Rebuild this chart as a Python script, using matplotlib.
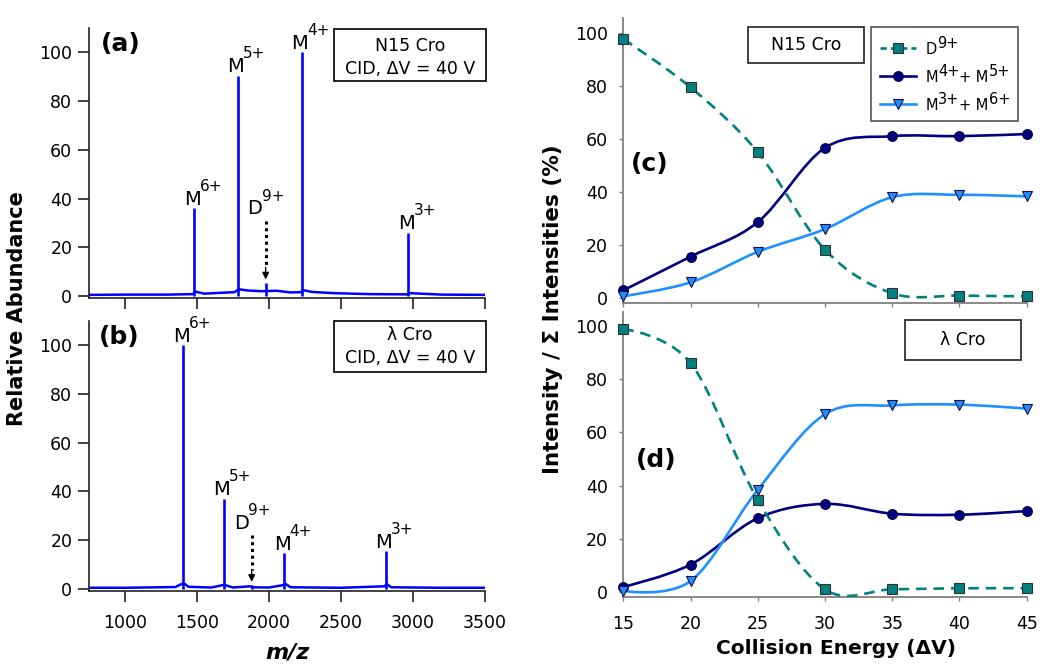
import matplotlib
matplotlib.use('Agg')
import matplotlib.pyplot as plt
from matplotlib.path import Path
from matplotlib.patches import PathPatch, Rectangle
from matplotlib.lines import Line2D
from matplotlib.offsetbox import AnchoredOffsetbox, HPacker, VPacker, TextArea, DrawingArea
import numpy as np

plt.rcParams['font.family'] = ['DejaVu Sans']
plt.rcParams['mathtext.default'] = 'regular'

# ---- mass spectra, CID at dV = 40 V ----
ion_letter = ['M', 'M', 'D', 'M', 'M']
ion_charge = ['6+', '5+', '9+', '4+', '3+']

n15_peak_mz = [1481, 1782, 1977, 2227, 2967]
n15_peak_height = [36, 90.5, 5.5, 100, 26]
n15_base_mz = [750, 1000, 1300, 1470, 1490, 1550, 1650, 1760, 1790, 1850, 1950, 2050,
               2150, 2220, 2240, 2300, 2450, 2700, 2960, 2980, 3200, 3500]
n15_base_y = [0.5, 0.6, 0.6, 0.8, 1.8, 1.0, 1.3, 1.6, 2.8, 2.3, 2.0, 2.2,
              1.5, 1.6, 2.4, 1.7, 1.2, 0.8, 0.7, 1.2, 0.6, 0.5]

lam_peak_mz = [1405, 1685, 1880, 2106, 2810]
lam_peak_height = [100, 37, 1.5, 14.5, 15.5]
lam_base_mz = [750, 1000, 1350, 1395, 1415, 1440, 1600, 1680, 1695, 1750, 1870, 1890,
               2000, 2100, 2115, 2150, 2500, 2800, 2820, 2850, 3200, 3500]
lam_base_y = [0.4, 0.4, 0.7, 2.0, 2.0, 0.8, 0.5, 1.5, 1.5, 0.5, 1.0, 0.6,
              0.5, 1.5, 2.0, 0.6, 0.4, 1.0, 1.8, 0.6, 0.4, 0.4]

# dimer label / arrow heights (label bottom, arrow start, arrow tip)
n15_d9_arrow = [33.5, 31.0, 6.8]
lam_d9_arrow = [24.5, 22.0, 2.8]

# ---- fragment intensities vs collision energy ----
energy = [15, 20, 25, 30, 35, 40, 45]
n15_d9 = [97.6, 79.4, 55.0, 18.2, 1.8, 0.9, 0.7]
n15_m45 = [2.9, 15.6, 28.6, 56.6, 61.0, 61.0, 61.8]
n15_m36 = [0.7, 5.9, 17.4, 26.0, 38.0, 38.9, 38.3]
lam_d9 = [99.0, 86.2, 34.6, 0.9, 0.9, 1.3, 1.3]
lam_m45 = [1.8, 10.2, 27.7, 33.1, 29.4, 29.0, 30.4]
lam_m36 = [0.3, 4.0, 38.4, 66.9, 70.2, 70.5, 69.0]

legend_parts = [[('D', '9+')], [('M', '4+'), ('+ M', '5+')], [('M', '3+'), ('+ M', '6+')]]

teal = '#008080'
navy = '#000080'
sky = '#1E90FF'

d9_style = dict(color=teal, lw=1.9, marker='s', ms=7, mfc=teal, mec='#303030', mew=0.8)
m45_style = dict(color=navy, lw=1.9, marker='o', ms=7, mfc=navy, mec='#000040', mew=0.8)
m36_style = dict(color=sky, lw=1.9, marker='v', ms=7.5, mfc=sky, mec='#10104a', mew=0.8)


def smooth_path(x, y):
    # bezier smoothing like a spreadsheet "smoothed line"
    p = np.column_stack([x, y]).astype(float)
    n = len(p)
    verts = [p[0]]
    codes = [Path.MOVETO]
    for i in range(n - 1):
        if i == 0:
            c1 = p[0]
        else:
            c1 = p[i] + (p[i + 1] - p[i - 1]) / 6
        if i + 2 < n:
            c2 = p[i + 1] - (p[i + 2] - p[i]) / 6
        else:
            c2 = p[i + 1]
        verts += [c1, c2, p[i + 1]]
        codes += [Path.CURVE4] * 3
    return Path(verts, codes)


def ion_label(ax, x, y, letter, charge, dx):
    # letter on the baseline, charge raised to the cap height
    w = 11.4 if letter == 'M' else 10.2
    ax.annotate(letter, xy=(x, y), xytext=(dx, 0), textcoords='offset points',
                ha='left', va='baseline', fontsize=14)
    ax.annotate(charge, xy=(x, y), xytext=(dx + w, 10.0), textcoords='offset points',
                ha='left', va='baseline', fontsize=11)


def spectrum(ax, peak_mz, peak_h, base_mz, base_y, arrow, show_x):
    ax.plot(base_mz, base_y, color='blue', lw=1.8, zorder=2)
    ax.vlines(peak_mz, 0, peak_h, color='blue', lw=1.9, zorder=3)
    for mz, h, let, ch in zip(peak_mz, peak_h, ion_letter, ion_charge):
        if let == 'D':
            ion_label(ax, mz, arrow[0], let, ch, -13)
            ax.plot([mz, mz], [arrow[1], arrow[2] + 5], color='black', lw=2.2,
                    linestyle=(0, (1, 1.2)), zorder=4)
            ax.annotate('', xy=(mz, arrow[2]), xytext=(mz, arrow[2] + 5),
                        arrowprops=dict(arrowstyle='-|>', color='black', lw=1,
                                        mutation_scale=10, shrinkA=0, shrinkB=0))
        else:
            ion_label(ax, mz, h + 1.4, let, ch, -7.5)
    ax.set_xlim(750, 3500)
    ax.set_ylim(-0.8, 110)
    ax.set_xticks(range(1000, 3501, 500))
    ax.set_yticks(range(0, 101, 20))
    for s in ['top', 'right']:
        ax.spines[s].set_visible(False)
    for s in ['left', 'bottom']:
        ax.spines[s].set_color('#222222')
        ax.spines[s].set_linewidth(1.2)
    ax.tick_params(direction='out', length=8, width=1.2, color='#222222',
                   labelsize=12.5, pad=4)
    ax.tick_params(axis='x', pad=9)
    if not show_x:
        ax.tick_params(axis='x', labelbottom=False)


def energy_plot(ax, d9, m45, m36, show_x):
    ax.add_patch(PathPatch(smooth_path(energy, m45), fill=False, edgecolor=navy, lw=1.9, zorder=2))
    ax.add_patch(PathPatch(smooth_path(energy, m36), fill=False, edgecolor=sky, lw=1.9, zorder=3))
    ax.add_patch(PathPatch(smooth_path(energy, d9), fill=False, edgecolor=teal, lw=1.9,
                           linestyle=(0, (4, 2.6)), zorder=4))
    ax.plot(energy, m45, ls='none', zorder=5, clip_on=False,
            **{k: v for k, v in m45_style.items() if k not in ('color', 'lw')})
    ax.plot(energy, m36, ls='none', zorder=6, clip_on=False,
            **{k: v for k, v in m36_style.items() if k not in ('color', 'lw')})
    ax.plot(energy, d9, ls='none', zorder=7, clip_on=False,
            **{k: v for k, v in d9_style.items() if k not in ('color', 'lw')})
    ax.set_xlim(15, 45)
    ax.set_ylim(-1.9, 105.4)
    ax.set_xticks(energy)
    ax.set_yticks(range(0, 101, 20))
    for s in ['top', 'right']:
        ax.spines[s].set_visible(False)
    for s in ['left', 'bottom']:
        ax.spines[s].set_color('#808080')
        ax.spines[s].set_linewidth(1.3)
    ax.tick_params(direction='out', length=3, width=1, color='#808080',
                   labelsize=12.5, pad=8)
    ax.tick_params(axis='x', pad=10)
    if not show_x:
        ax.tick_params(axis='x', labelbottom=False)


def box(ax, x0, y0, x1, y1, lines, ys, ec):
    ax.add_patch(Rectangle((x0, y0), x1 - x0, y1 - y0, transform=ax.transAxes, fill=False,
                           edgecolor=ec, lw=1.3, clip_on=False, zorder=8))
    for t, yy in zip(lines, ys):
        ax.text((x0 + x1) / 2, yy, t, transform=ax.transAxes, ha='center', va='center',
                fontsize=12.5, zorder=9)


def legend_row(style, parts):
    # handle: short line with a marker in the middle
    da = DrawingArea(26, 12, 0, 0)
    ls = (0, (2.4, 1.5)) if style is d9_style else '-'
    da.add_artist(Line2D([0, 26], [6.3, 6.3], color=style['color'], lw=style['lw'], ls=ls))
    da.add_artist(Line2D([13], [6.3], ls='none', marker=style['marker'], ms=style['ms'],
                         mfc=style['mfc'], mec=style['mec'], mew=style['mew']))
    items = []
    for base, sup in parts:
        items.append(TextArea(base, textprops=dict(fontsize=10.5)))
        items.append(VPacker(children=[TextArea(sup, textprops=dict(fontsize=10.5)),
                                       DrawingArea(1, 4.5)], pad=0, sep=0, align='left'))
    label = HPacker(children=items, align='bottom', pad=0, sep=0)
    return HPacker(children=[da, label], align='bottom', pad=0, sep=7)


fig = plt.figure(figsize=(10.5, 6.72), dpi=100)

ax_a = fig.add_axes([0.0848, 0.5565, 0.377, 0.4018])
ax_b = fig.add_axes([0.0848, 0.1210, 0.377, 0.4018])
ax_c = fig.add_axes([0.5936, 0.5490, 0.3842, 0.4237])
ax_d = fig.add_axes([0.5936, 0.1120, 0.3842, 0.4237])

spectrum(ax_a, n15_peak_mz, n15_peak_height, n15_base_mz, n15_base_y, n15_d9_arrow, False)
spectrum(ax_b, lam_peak_mz, lam_peak_height, lam_base_mz, lam_base_y, lam_d9_arrow, True)
energy_plot(ax_c, n15_d9, n15_m45, n15_m36, False)
energy_plot(ax_d, lam_d9, lam_m45, lam_m36, True)

box(ax_a, 0.619, 0.804, 1.003, 0.996, ['N15 Cro', 'CID, ΔV = 40 V'], [0.935, 0.85], '#111111')
box(ax_b, 0.619, 0.810, 1.003, 1.000, ['λ Cro', 'CID, ΔV = 40 V'], [0.946, 0.86], '#111111')
box(ax_c, 0.308, 0.843, 0.597, 0.969, ['N15 Cro'], [0.906], '#333333')
box(ax_d, 0.698, 0.831, 0.986, 0.972, ['λ Cro'], [0.901], '#333333')

for ax, lab, x, y in [(ax_a, '(a)', 0.03, 0.94), (ax_b, '(b)', 0.025, 0.94),
                      (ax_c, '(c)', 0.02, 0.49), (ax_d, '(d)', 0.03, 0.48)]:
    ax.text(x, y, lab, transform=ax.transAxes, fontsize=18, fontweight='bold',
            ha='left', va='center')

rows = [legend_row(st, pt) for st, pt in zip([d9_style, m45_style, m36_style], legend_parts)]
leg = AnchoredOffsetbox(loc='upper left', child=VPacker(children=rows, pad=0, sep=5, align='left'),
                        pad=0.5, borderpad=0, frameon=True, prop=dict(size=12),
                        bbox_to_anchor=(0.615, 0.969), bbox_transform=ax_c.transAxes)
leg.patch.set_edgecolor('#555555')
leg.patch.set_linewidth(1.2)
leg.set_zorder(10)
ax_c.add_artist(leg)

fig.text(0.016, 1 - 309 / 672, 'Relative Abundance', rotation=90, ha='center', va='center',
         fontsize=15, fontweight='bold')
fig.text(553 / 1050, 1 - 309 / 672, 'Intensity / Σ Intensities (%)', rotation=90,
         ha='center', va='center', fontsize=15.5, fontweight='bold')
fig.text(287 / 1050, 1 - 652 / 672, 'm/z', ha='center', va='center', fontsize=16,
         fontweight='bold', style='italic')
fig.text(836 / 1050, 1 - 648 / 672, 'Collision Energy (ΔV)', ha='center', va='center',
         fontsize=14.5, fontweight='bold')

fig.savefig('out.png', dpi=100)
